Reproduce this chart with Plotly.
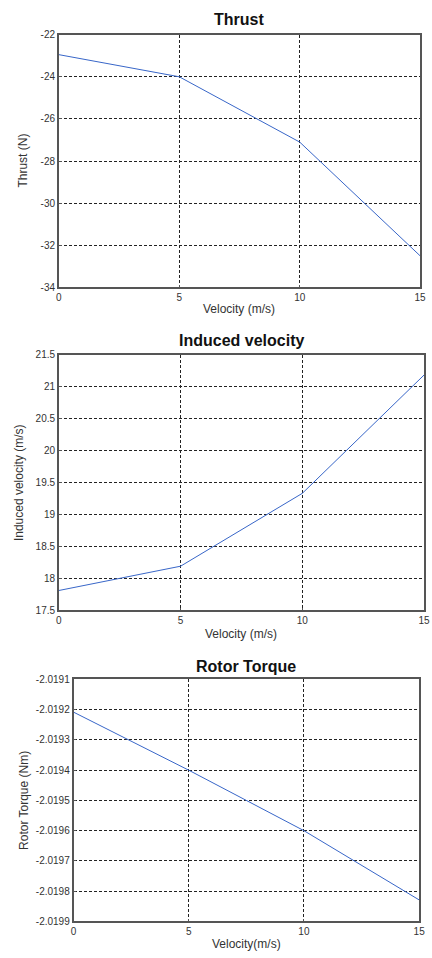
import plotly.graph_objects as go

W, H = 432, 958

velocity = [0, 5, 10, 15]
thrust = [-22.95, -24.0, -27.1, -32.5]
induced = [17.81, 18.19, 19.33, 21.18]
torque = [-2.019208, -2.019400, -2.019600, -2.019829]

x_ticks = [0, 5, 10, 15]
x_ticktext = ["0", "5", "10", "15"]
thrust_ticks = [-34, -32, -30, -28, -26, -24, -22]
thrust_ticktext = ["-34", "-32", "-30", "-28", "-26", "-24", "-22"]
induced_ticks = [17.5, 18, 18.5, 19, 19.5, 20, 20.5, 21, 21.5]
induced_ticktext = ["17.5", "18", "18.5", "19", "19.5", "20", "20.5", "21", "21.5"]
torque_ticks = [-2.0199, -2.0198, -2.0197, -2.0196, -2.0195, -2.0194, -2.0193, -2.0192, -2.0191]
torque_ticktext = ["-2.0199", "-2.0198", "-2.0197", "-2.0196", "-2.0195", "-2.0194", "-2.0193", "-2.0192", "-2.0191"]

titles = ["Thrust", "Induced velocity", "Rotor Torque"]
xlabels = ["Velocity (m/s)", "Velocity (m/s)", "Velocity(m/s)"]
ylabels = ["Thrust (N)", "Induced velocity (m/s)", "Rotor Torque (Nm)"]

# pixel boxes: (left, right, top, bottom)
boxes = [(57, 426, 29, 285), (57, 430, 353, 612), (72, 425, 682, 927)]
title_y = [14, 339, 669]
xlabel_y = [307, 636, 950]
ylabel_x = [20, 17, 22]

series = [thrust, induced, torque]
yranges = [[-34, -22], [17.5, 21.5], [-2.0199, -2.0191]]
yticks = [(thrust_ticks, thrust_ticktext), (induced_ticks, induced_ticktext), (torque_ticks, torque_ticktext)]

FONT = "Liberation Sans, Arial, sans-serif"
fig = go.Figure()
layout = dict(width=W, height=H, margin=dict(l=0, r=0, t=0, b=0),
              paper_bgcolor="white", plot_bgcolor="white", showlegend=False,
              font=dict(family=FONT, color="#222"))
annotations = []

for i in range(3):
    l, r, t, b = boxes[i]
    xa = "xaxis" if i == 0 else f"xaxis{i+1}"
    ya = "yaxis" if i == 0 else f"yaxis{i+1}"
    xref = "x" if i == 0 else f"x{i+1}"
    yref = "y" if i == 0 else f"y{i+1}"
    fig.add_trace(go.Scatter(x=velocity, y=series[i], mode="lines",
                             line=dict(color="#3866c8", width=1),
                             xaxis=xref, yaxis=yref, hoverinfo="skip"))
    common = dict(showgrid=True, gridcolor="#222", griddash="3px,2px", gridwidth=1.3,
                  showline=True, linecolor="#555", linewidth=1.5, mirror=True,
                  ticks="inside", ticklen=3, tickcolor="#555",
                  tickfont=dict(size=10, color="#333"), zeroline=False)
    layout[xa] = dict(domain=[l / W, r / W], anchor=yref, range=[0, 15],
                      tickvals=x_ticks, ticktext=x_ticktext, **common)
    layout[ya] = dict(domain=[1 - b / H, 1 - t / H], anchor=xref, range=yranges[i],
                      tickvals=yticks[i][0], ticktext=yticks[i][1], **common)
    cx = (l + r) / 2
    annotations.append(dict(text=f"<b>{titles[i]}</b>", x=cx / W, y=1 - title_y[i] / H,
                            xref="paper", yref="paper", showarrow=False,
                            font=dict(size=16, color="#111"), xanchor="center", yanchor="middle"))
    annotations.append(dict(text=xlabels[i], x=cx / W, y=1 - xlabel_y[i] / H,
                            xref="paper", yref="paper", showarrow=False,
                            font=dict(size=12, color="#333"), xanchor="center", yanchor="middle"))
    annotations.append(dict(text=ylabels[i], x=ylabel_x[i] / W, y=1 - (t + b) / 2 / H,
                            xref="paper", yref="paper", showarrow=False, textangle=-90,
                            font=dict(size=12, color="#333"), xanchor="center", yanchor="middle"))

layout["annotations"] = annotations
fig.update_layout(**layout)
fig.write_html("out.html")
